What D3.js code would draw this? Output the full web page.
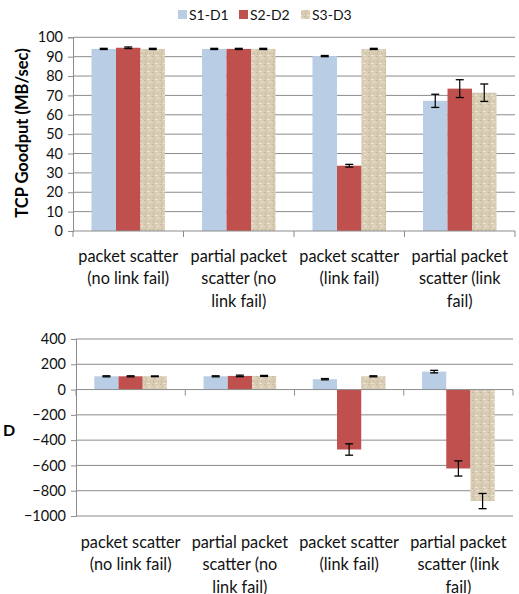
<!DOCTYPE html>
<html><head><meta charset="utf-8">
<script src="https://cdn.jsdelivr.net/npm/d3@7"></script>
<style>
body{margin:0;background:#fff;}
text{font-family:Lato,"Open Sans",sans-serif;}
</style></head>
<body><svg id="c" width="519" height="594"></svg>
<script>
const categories = ["packet scatter (no link fail)","partial packet scatter (no link fail)","packet scatter (link fail)","partial packet scatter (link fail)"];
const categoryLines = [["packet scatter","(no link fail)"],["partial packet","scatter (no","link fail)"],["packet scatter","(link fail)"],["partial packet","scatter (link","fail)"]];
const series = ["S1-D1","S2-D2","S3-D3"];
const goodput = [[94,94,90.3,67.2],[94.6,94,33.7,73.5],[94,94,94,71.4]];
const goodputErr = [[0.3,0.3,0.3,3.4],[0.4,0.3,0.7,4.6],[0.3,0.3,0.3,4.5]];
const dValues = [[105,105,82,142],[105,108,-474,-624],[105,108,105,-882]];
const dErr = [[4,4,5,10],[4,6,45,60],[3,4,4,60]];
const topTicks = [0,10,20,30,40,50,60,70,80,90,100];
const bottomTicks = [-1000,-800,-600,-400,-200,0,200,400];

const colors = ["#b9cde5","#c0504d","url(#tex)"];
const svg = d3.select("#c");
const defs = svg.append("defs");
const pat = defs.append("pattern").attr("id","tex").attr("patternUnits","userSpaceOnUse").attr("width",8).attr("height",8);
pat.append("rect").attr("width",8).attr("height",8).attr("fill","#d9cdb6");
[[0,0,2,1,"#c8bb9f"],[4,2,3,1,"#e8e0cf"],[1,4,1,3,"#c6b99c"],[5,5,2,1,"#cdc0a5"],[3,7,3,1,"#ebe4d5"],[6,1,1,2,"#e4dccb"],[2,2,1,1,"#c4b698"]].forEach(d=>{
  pat.append("rect").attr("x",d[0]).attr("y",d[1]).attr("width",d[2]).attr("height",d[3]).attr("fill",d[4]);
});

// legend
const leg = svg.append("g");
const legX = [178,239,301];
series.forEach((s,i)=>{
  leg.append("rect").attr("x",legX[i]).attr("y",10).attr("width",9).attr("height",9).attr("fill",colors[i]);
  leg.append("text").attr("x",legX[i]+11).attr("y",19.5).attr("font-size",14).attr("fill","#111").text(s);
});

function drawChart(cfg){
  const g = svg.append("g");
  const x0 = d3.scaleBand().domain(categories).range([cfg.left,cfg.right]).padding(0);
  const x1 = d3.scaleBand().domain(series).range([0,x0.bandwidth()]).paddingInner(0).paddingOuter(0.755);
  const y = d3.scaleLinear().domain(cfg.domain).range([cfg.bottom,cfg.top]);
  // grid
  g.append("g").selectAll("line").data(cfg.ticks.filter(t=>t!==cfg.axisVal)).join("line")
    .attr("x1",cfg.left).attr("x2",cfg.right).attr("y1",d=>y(d)).attr("y2",d=>y(d))
    .attr("stroke","#8c8c8c").attr("stroke-width",1);
  // y axis
  const ya = d3.axisLeft(y).tickValues(cfg.ticks).tickSize(5).tickPadding(5).tickFormat(d3.format("d"));
  const yg = g.append("g").attr("transform",`translate(${cfg.left},0)`).call(ya);
  yg.select(".domain").attr("stroke","#8c8c8c");
  yg.selectAll(".tick line").attr("stroke","#8c8c8c");
  yg.selectAll(".tick text").attr("font-size",14.5).attr("fill","#111").style("font-family","Lato,sans-serif");
  // bars
  series.forEach((s,i)=>{
    g.append("g").selectAll("rect").data(categories).join("rect")
      .attr("x",c=>x0(c)+x1(s)).attr("width",x1.bandwidth())
      .attr("y",(c,j)=>y(Math.max(0,cfg.vals[i][j])))
      .attr("height",(c,j)=>Math.abs(y(cfg.vals[i][j])-y(0)))
      .attr("fill",colors[i]);
  });
  // category axis line
  const ay = y(cfg.axisVal);
  g.append("line").attr("x1",cfg.left).attr("x2",cfg.right).attr("y1",ay).attr("y2",ay).attr("stroke","#8c8c8c");
  const bounds = categories.map(c=>x0(c)).concat([cfg.right]);
  g.append("g").selectAll("line").data(bounds).join("line")
    .attr("x1",d=>d).attr("x2",d=>d).attr("y1",ay).attr("y2",ay+6).attr("stroke","#8c8c8c");
  // error bars
  series.forEach((s,i)=>{
    categories.forEach((c,j)=>{
      const cx = x0(c)+x1(s)+x1.bandwidth()/2;
      const v = cfg.vals[i][j], e = cfg.errs[i][j];
      const y1 = y(v+e), y2 = y(v-e);
      g.append("line").attr("x1",cx).attr("x2",cx).attr("y1",y1).attr("y2",y2).attr("stroke","#000").attr("stroke-width",1.2);
      [y1,y2].forEach(yy=>g.append("line").attr("x1",cx-4).attr("x2",cx+4).attr("y1",yy).attr("y2",yy).attr("stroke","#000").attr("stroke-width",1.3));
    });
  });
  // category labels
  categories.forEach((c,j)=>{
    const t = g.append("text").attr("text-anchor","middle").attr("font-size",16.3).attr("fill","#111");
    categoryLines[j].forEach((ln,k)=>{
      t.append("tspan").attr("x",x0(c)+x0.bandwidth()/2).attr("y",cfg.labelY+k*22.5).text(ln);
    });
  });
  // title
  const tt = g.append("text").attr("font-weight","bold").attr("font-size",cfg.titleSize).attr("fill","#000")
    .attr("text-anchor","middle");
  if(cfg.rotate){
    tt.attr("transform",`translate(${cfg.titleX},${cfg.titleY}) rotate(-90)`).text(cfg.title);
  } else {
    tt.attr("x",cfg.titleX).attr("y",cfg.titleY).text(cfg.title);
  }
}

drawChart({left:73,right:515,top:37.3,bottom:231,domain:[0,100],ticks:topTicks,axisVal:0,
  vals:goodput,errs:goodputErr,labelY:261.5,title:"TCP Goodput (MB/sec)",titleX:28,titleY:133,rotate:true,titleSize:16.5});
drawChart({left:76,right:513,top:339,bottom:516,domain:[-1000,400],ticks:bottomTicks,axisVal:0,
  vals:dValues,errs:dErr,labelY:547.5,title:"D",titleX:9,titleY:436,rotate:false,titleSize:16});
</script></body></html>
